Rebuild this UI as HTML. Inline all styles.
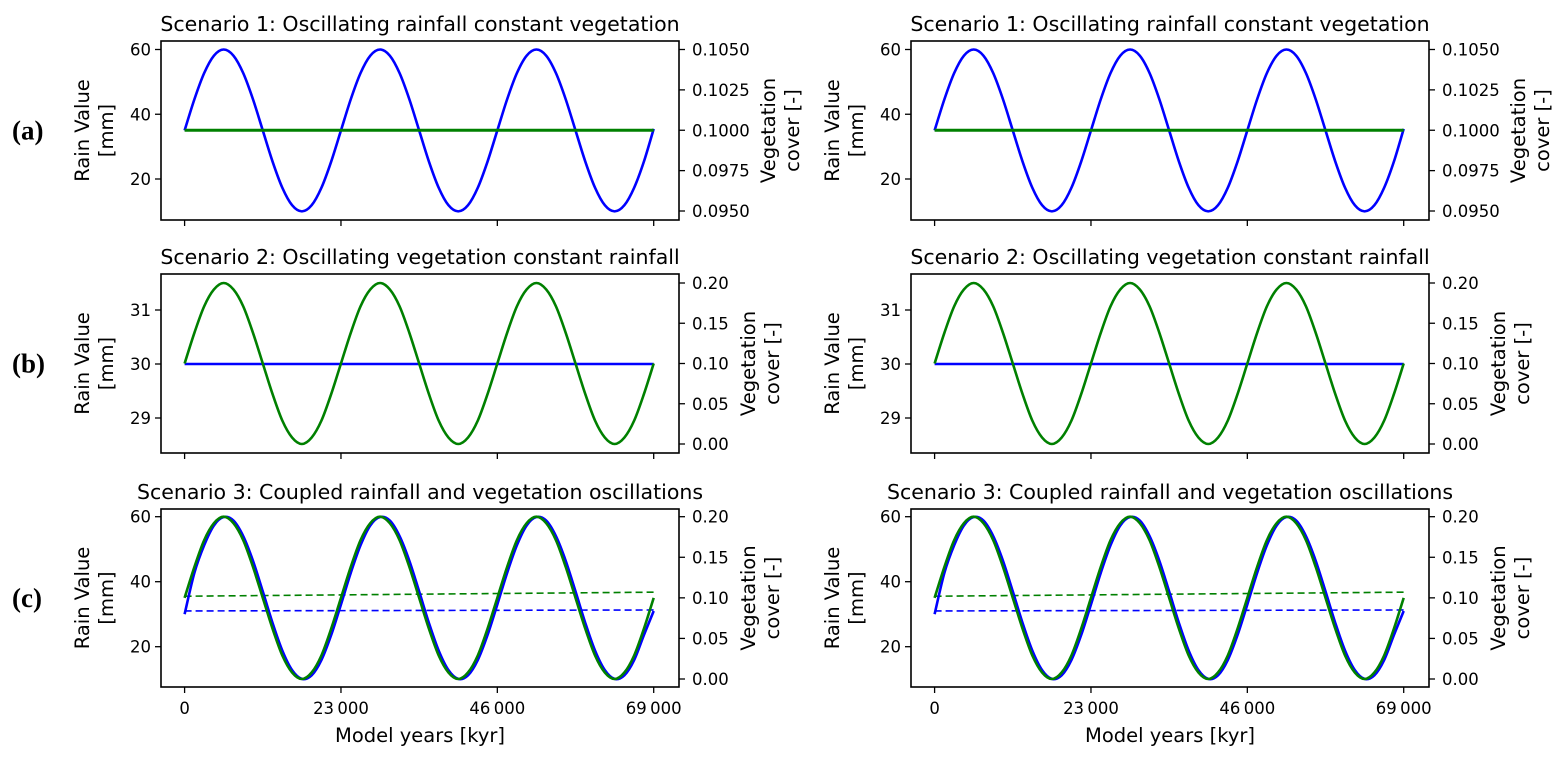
<!DOCTYPE html>
<html><head><meta charset="utf-8"><style>
html,body{margin:0;padding:0;background:#fff;}
svg{display:block;font-family:"DejaVu Sans","Liberation Sans",sans-serif;}
</style></head><body>
<svg id="fig" width="1565" height="761" viewBox="0 0 1565 761" xmlns="http://www.w3.org/2000/svg"></svg>
<script>
// ---- data ----
const xTicks = [0, 23000, 46000, 69000];
const xTickLabels = ["0", "23\u2009000", "46\u2009000", "69\u2009000"];
const sampleYears = [0,1437.5,2875,4312.5,5750,7187.5,8625,10062.5,11500,12937.5,14375,15812.5,17250,18687.5,20125,21562.5,23000,24437.5,25875,27312.5,28750,30187.5,31625,33062.5,34500,35937.5,37375,38812.5,40250,41687.5,43125,44562.5,46000,47437.5,48875,50312.5,51750,53187.5,54625,56062.5,57500,58937.5,60375,61812.5,63250,64687.5,66125,67562.5,69000];
const rainOsc = [35,44.6,52.7,58.1,60,58.1,52.7,44.6,35,25.4,17.3,11.9,10,11.9,17.3,25.4,35,44.6,52.7,58.1,60,58.1,52.7,44.6,35,25.4,17.3,11.9,10,11.9,17.3,25.4,35,44.6,52.7,58.1,60,58.1,52.7,44.6,35,25.4,17.3,11.9,10,11.9,17.3,25.4,35.5];
const vegOsc = [0.1,0.138,0.171,0.192,0.2,0.192,0.171,0.138,0.1,0.062,0.029,0.008,0,0.008,0.029,0.062,0.1,0.138,0.171,0.192,0.2,0.192,0.171,0.138,0.1,0.062,0.029,0.008,0,0.008,0.029,0.062,0.1,0.138,0.171,0.192,0.2,0.192,0.171,0.138,0.1,0.062,0.029,0.008,0,0.008,0.029,0.062,0.1];
const rainCoupled = [30,42.7,51.2,57.3,59.9,58.8,54,46.4,37,27.3,18.8,12.8,10.1,11.2,15.9,23.6,33,42.7,51.2,57.3,59.9,58.8,54,46.4,37,27.3,18.8,12.8,10.1,11.2,15.9,23.6,33,42.7,51.2,57.3,59.9,58.8,54,46.4,37,27.3,18.8,12.8,10.1,11.2,15.9,23.6,31];
const vegCoupled = vegOsc;
const dashYears = [0, 69000];
const rainMeanDashed = [31.0, 31.3];
const vegMeanDashed = [0.102, 0.107];
const rainConstB = [30, 30];
const vegConstA = [0.1, 0.1];

// ---- layout ----
const NS="http://www.w3.org/2000/svg";
const svg=document.getElementById('fig');
function mk(tag,attrs,parent){const e=document.createElementNS(NS,tag);for(const k in attrs)e.setAttribute(k,attrs[k]);(parent||svg).appendChild(e);return e;}
function txt(s,attrs,parent){const e=mk('text',attrs,parent);e.textContent=s;return e;}

const panels=[
 {key:'a',title:'Scenario 1: Oscillating rainfall constant vegetation',top:41,bot:220,ylab2:96,
  ly:[20,60],ly2px:[179,49.5],lt:[20,40,60],ltl:["20","40","60"],
  ry:[0.095,0.105],ry2px:[211,49.5],rt:[0.095,0.0975,0.1,0.1025,0.105],rtl:["0.0950","0.0975","0.1000","0.1025","0.1050"],xlabels:false},
 {key:'b',title:'Scenario 2: Oscillating vegetation constant rainfall',top:274,bot:453,ylab2:76,
  ly:[29,31],ly2px:[418,310],lt:[29,30,31],ltl:["29","30","31"],
  ry:[0,0.2],ry2px:[444,283],rt:[0,0.05,0.1,0.15,0.2],rtl:["0.00","0.05","0.10","0.15","0.20"],xlabels:false},
 {key:'c',title:'Scenario 3: Coupled rainfall and vegetation oscillations',top:509,bot:687,ylab2:76,
  ly:[20,60],ly2px:[646.7,516.7],lt:[20,40,60],ltl:["20","40","60"],
  ry:[0,0.2],ry2px:[679,516.7],rt:[0,0.05,0.1,0.15,0.2],rtl:["0.00","0.05","0.10","0.15","0.20"],xlabels:true}
];

function smoothPath(pts){
  let d='M'+pts[0][0].toFixed(2)+','+pts[0][1].toFixed(2);
  for(let i=0;i<pts.length-1;i++){
    const p0=pts[Math.max(0,i-1)],p1=pts[i],p2=pts[i+1],p3=pts[Math.min(pts.length-1,i+2)];
    const c1=[p1[0]+(p2[0]-p0[0])/6,p1[1]+(p2[1]-p0[1])/6];
    const c2=[p2[0]-(p3[0]-p1[0])/6,p2[1]-(p3[1]-p1[1])/6];
    d+=' C'+c1[0].toFixed(2)+','+c1[1].toFixed(2)+' '+c2[0].toFixed(2)+','+c2[1].toFixed(2)+' '+p2[0].toFixed(2)+','+p2[1].toFixed(2);
  }
  return d;
}

[0,750].forEach((off,col)=>{
  panels.forEach(p=>{
    const g=mk('g',{});
    
    
    const L=161+off,R=679+off;
    const xS=v=>184.6+off+(v-0)/69000*(653.7-184.6);
    const yL=v=>p.ly2px[0]+(v-p.ly[0])/(p.ly[1]-p.ly[0])*(p.ly2px[1]-p.ly2px[0]);
    const yR=v=>p.ry2px[0]+(v-p.ry[0])/(p.ry[1]-p.ry[0])*(p.ry2px[1]-p.ry2px[0]);
    const t=txt(p.title,{x:(L+R)/2,y:p.top-10,'text-anchor':'middle','font-size':'20.5',fill:'#000'},g);
    
    
    const lines=[];
    if(p.key==='a'){
      lines.push({ys:rainOsc,xs:sampleYears,f:yL,c:'#0000ff',smooth:true,n:'rain-line'});
      lines.push({ys:vegConstA,xs:dashYears,f:yR,c:'#008000',w:3,n:'vegetation-line'});
    } else if(p.key==='b'){
      lines.push({ys:rainConstB,xs:dashYears,f:yL,c:'#0000ff',n:'rain-line'});
      lines.push({ys:vegOsc,xs:sampleYears,f:yR,c:'#008000',smooth:true,n:'vegetation-line'});
    } else {
      lines.push({ys:rainMeanDashed,xs:dashYears,f:yL,c:'#0000ff',dash:'7,4',w:1.6,n:'rain-mean-dashed'});
      lines.push({ys:vegMeanDashed,xs:dashYears,f:yR,c:'#008000',dash:'7,4',w:1.6,n:'vegetation-mean-dashed'});
      lines.push({ys:rainCoupled,xs:sampleYears,f:yL,c:'#0000ff',smooth:true,n:'rain-line'});
      lines.push({ys:vegCoupled,xs:sampleYears,f:yR,c:'#008000',smooth:true,n:'vegetation-line'});
    }
    lines.forEach(l=>{
      const pts=l.xs.map((x,i)=>[xS(x),l.f(l.ys[i])]);
      const d=l.smooth?smoothPath(pts):'M'+pts.map(q=>q[0]+','+q[1]).join(' L');
      const a={d:d,fill:'none',stroke:l.c,'stroke-width':l.w||2.6,'stroke-linejoin':'round'};
      if(l.dash)a['stroke-dasharray']=l.dash;
      const e=mk('path',a,g);
      
      
    });
    const fr=mk('rect',{x:L,y:p.top,width:R-L,height:p.bot-p.top,fill:'none',stroke:'#000','stroke-width':1.6},g);
    
    
    p.lt.forEach((v,i)=>{
      const y=yL(v);
      mk('line',{x1:L-6,x2:L,y1:y,y2:y,stroke:'#000','stroke-width':1.3},g);
      const e=txt(p.ltl[i],{x:L-10,y:y+6,'text-anchor':'end','font-size':'16.5'},g);
      
      
    });
    p.rt.forEach((v,i)=>{
      const y=yR(v);
      mk('line',{x1:R,x2:R+6,y1:y,y2:y,stroke:'#000','stroke-width':1.3},g);
      const e=txt(p.rtl[i],{x:R+13,y:y+6,'text-anchor':'start','font-size':'16.5'},g);
      
      
    });
    xTicks.forEach((v,i)=>{
      const x=xS(v);
      mk('line',{x1:x,x2:x,y1:p.bot,y2:p.bot+6,stroke:'#000','stroke-width':1.3},g);
      if(p.xlabels){
        const e=txt(xTickLabels[i],{x:x,y:p.bot+27,'text-anchor':'middle','font-size':'16.5'},g);
        
        
      }
    });
    const cy=(p.top+p.bot)/2;
    const yl=txt('',{transform:`translate(${L-72},${cy}) rotate(-90)`,'text-anchor':'middle','font-size':'19.5'},g);
    
    
    mk('tspan',{x:0,dy:0},yl).textContent='Rain Value';
    mk('tspan',{x:0,dy:24},yl).textContent='[mm]';
    const yr=txt('',{transform:`translate(${R+p.ylab2},${cy}) rotate(-90)`,'text-anchor':'middle','font-size':'19.5'},g);
    
    
    mk('tspan',{x:0,dy:0},yr).textContent='Vegetation';
    mk('tspan',{x:0,dy:24},yr).textContent='cover [-]';
    if(p.xlabels){
      const xl=txt('Model years [kyr]',{x:(L+R)/2,y:p.bot+55,'text-anchor':'middle','font-size':'19.5'},g);
      
      
    }
    if(col===0){
      const pl=txt('('+p.key+')',{x:12,y:cy+9,'font-family':'Liberation Serif,serif','font-weight':'bold','font-size':'27'},g);
      
      
    }
  });
});
</script>
</body></html>
